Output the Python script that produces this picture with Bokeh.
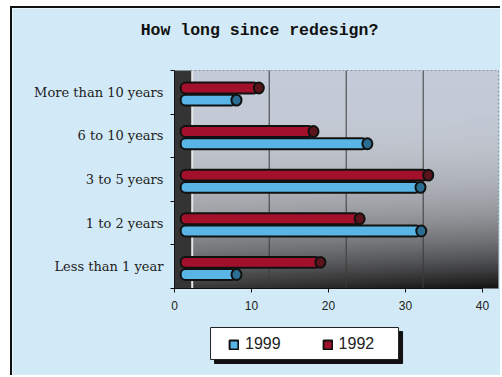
import numpy as np
from bokeh.plotting import figure
from bokeh.models import FixedTicker, Legend, LegendItem, Range1d, Label
from bokeh.embed import file_html
from bokeh.resources import INLINE

# Survey: how long since the last redesign (percent of respondents)
categories = ["Less than 1 year", "1 to 2 years", "3 to 5 years",
              "6 to 10 years", "More than 10 years"]
share_1999 = [8.7, 32.7, 32.6, 25.7, 8.7]
share_1992 = [19.6, 24.7, 33.6, 18.7, 11.6]
x_ticks = [0, 10, 20, 30, 40]
series_labels = ["1999", "1992"]
title_text = "How long since redesign?"

# styling
PAGE = "#d2eaf7"
BLUE, BLUE_CAP = "#58b5e6", "#2c6e93"
RED, RED_CAP = "#a3102c", "#5c141c"
N = len(categories)
X_LO, X_HI = -21.04, 42.6    # whole canvas: labels on the left, box on the right
Y_LO, Y_HI = -2.041, 6.422   # room above the box for the title, below it for the legend
BOX_RIGHT = 42.08
WALL = 2.3      # depth of the dark side wall, in axis units
BASE = 0.8      # where the tubes start, inside the wall
CAP = 1.3       # width of the tube end cap
BAR_H = 0.25    # tube thickness in category units
RED_OFF, BLUE_OFF = 0.1, -0.18
TITLE_X, TITLE_Y = 11.04, 5.92
LEG_BOX = dict(left=4.68, right=29.1, bottom=-1.628, top=-0.894)
SHADOW_DX, SHADOW_DY = 0.52, -0.092

p = figure(width=490, height=369, x_range=Range1d(X_LO, X_HI), y_range=Range1d(Y_LO, Y_HI),
           output_backend="svg", toolbar_location=None,
           min_border_left=0, min_border_right=0, min_border_top=0, min_border_bottom=0)
p.styles = {"margin-left": "10px", "margin-top": "6px",
            "border-left": "2px solid #111", "border-top": "2px solid #111"}
p.border_fill_color = PAGE
p.background_fill_color = PAGE
p.outline_line_color = None
p.xgrid.visible = False
p.ygrid.visible = False

# back wall shading: light at the top, dark towards the lower right
ny, nx = 120, 240
t = (1 - np.arange(ny) / (ny - 1))[:, None]
u = np.linspace(0, 1, nx)[None, :]
L = 205 - 185 * t ** 2.9 * (0.8 + 0.2 * u)
img = np.zeros((ny, nx), dtype=np.uint32)
view = img.view(dtype=np.uint8).reshape((ny, nx, 4))
view[..., 0] = np.clip(L - 10 * (1 - t), 0, 255)
view[..., 1] = np.clip(L - 2 * (1 - t), 0, 255)
view[..., 2] = np.clip(L + 12 * (1 - t), 0, 255)
view[..., 3] = 255
p.image_rgba(image=[img], x=WALL, y=0, dw=BOX_RIGHT - WALL, dh=N)

# side wall and its lit edge
p.quad(left=0, right=WALL, bottom=0, top=N, fill_color="#343434", line_color=None)
p.segment(x0=WALL, x1=WALL, y0=0, y1=N, line_color="#e4e6e8", line_width=2)

# grid lines on the back wall, dotted top and right edges of the box
gx = [v + WALL for v in x_ticks[1:-1]]
p.segment(x0=gx, x1=gx, y0=[0] * len(gx), y1=[N] * len(gx), line_color="#3a3a3a", line_width=1)
p.segment(x0=[0, BOX_RIGHT], x1=[BOX_RIGHT, BOX_RIGHT], y0=[N, 0], y1=[N, N],
          line_color="#8a8f94", line_width=1, line_dash="2 2")

# tubes
y_red = [i + 0.5 + RED_OFF for i in range(N)]
y_blue = [i + 0.5 + BLUE_OFF for i in range(N)]

r_red = p.hbar(y=y_red, height=BAR_H, left=BASE, right=[v - CAP / 2 for v in share_1992],
               fill_color=RED, line_color="#111", line_width=2, border_radius=5)
p.ellipse(x=[v - CAP / 2 for v in share_1992], y=y_red, width=CAP, height=BAR_H,
          fill_color=RED_CAP, line_color="#111", line_width=2)
r_blue = p.hbar(y=y_blue, height=BAR_H, left=BASE, right=[v - CAP / 2 for v in share_1999],
                fill_color=BLUE, line_color="#111", line_width=2, border_radius=5)
p.ellipse(x=[v - CAP / 2 for v in share_1999], y=y_blue, width=CAP, height=BAR_H,
          fill_color=BLUE_CAP, line_color="#111", line_width=2)

# axes, pinned to the corner of the box
xa = p.xaxis[0]
xa.fixed_location = 0
xa.bounds = (0, x_ticks[-1])
xa.ticker = FixedTicker(ticks=x_ticks)
xa.major_tick_in = 0
xa.major_tick_out = 4
xa.minor_tick_line_color = None
xa.axis_line_color = "#111"
xa.major_tick_line_color = "#111"
xa.major_label_text_font = "Liberation Sans"
xa.major_label_text_font_size = "12px"
xa.major_label_text_color = "#222"
xa.major_label_standoff = 8

ya = p.yaxis[0]
ya.fixed_location = 0
ya.bounds = (0, N)
centers = [i + 0.5 for i in range(N)]
ya.ticker = FixedTicker(ticks=centers, minor_ticks=list(range(N + 1)))
ya.major_label_overrides = {c: lab for c, lab in zip(centers, categories)}
ya.major_tick_line_color = None
ya.major_tick_in = 0
ya.major_tick_out = 0
ya.minor_tick_in = 0
ya.minor_tick_out = 4
ya.minor_tick_line_color = "#111"
ya.axis_line_color = "#111"
ya.major_label_text_font = "DejaVu Serif"
ya.major_label_text_font_size = "13px"
ya.major_label_text_color = "#222"
ya.major_label_standoff = 7

# title
p.add_layout(Label(x=TITLE_X, y=TITLE_Y, text=title_text, text_align="center",
                   text_baseline="middle", text_font="Liberation Mono", text_font_style="bold",
                   text_font_size="16.5px", text_color="#111"))

# legend box with a drop shadow
p.quad(left=LEG_BOX["left"] + SHADOW_DX, right=LEG_BOX["right"] + SHADOW_DX,
       bottom=LEG_BOX["bottom"] + SHADOW_DY, top=LEG_BOX["top"] + SHADOW_DY,
       fill_color="#111", line_color="#111")
p.quad(fill_color="white", line_color="#222", line_width=1, **LEG_BOX)

legend = Legend(items=[LegendItem(label=series_labels[0], renderers=[r_blue]),
                       LegendItem(label=series_labels[1], renderers=[r_red])],
                location=(216, 24), orientation="horizontal", glyph_width=11, glyph_height=11,
                label_standoff=6, spacing=41, padding=0, margin=0,
                label_text_font="Liberation Sans", label_text_font_size="16px",
                label_text_color="#222", label_height=14,
                background_fill_alpha=0, border_line_color=None)
p.add_layout(legend)

open("out.html", "w").write(file_html(p, INLINE))
